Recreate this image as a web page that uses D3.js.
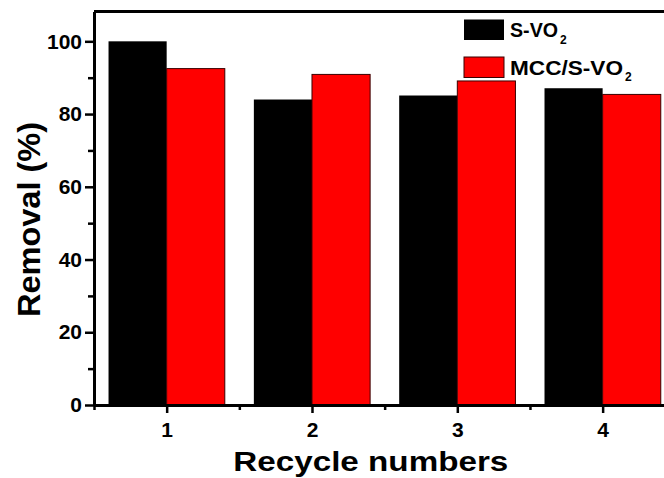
<!DOCTYPE html>
<html><head><meta charset="utf-8">
<script src="https://cdn.jsdelivr.net/npm/d3@7"></script>
<style>
body{margin:0;background:#fff}
svg{display:block}
text{font-family:"Liberation Sans",Arial,sans-serif;font-weight:bold;fill:#000}
</style>
</head><body>
<svg id="chart" width="664" height="478"></svg>
<script>
// Removal efficiency over recycle runs
const cycles = [1, 2, 3, 4];
const sVO2 = [100, 84.0, 85.1, 87.1];
const mccSVO2 = [92.5, 90.9, 89.1, 85.4];
const seriesNames = ["S-VO", "MCC/S-VO"];
const seriesColors = ["#000000", "#ff0000"];
const yTicks = [0, 20, 40, 60, 80, 100];
const yMinorTicks = [10, 30, 50, 70, 90];
const xMinorTicks = [0.5, 1.5, 2.5, 3.5];

const svg = d3.select("#chart");
const x = d3.scaleLinear().domain([0.5, 4.5]).range([94, 675.3]);
const y = d3.scaleLinear().domain([0, 108.2]).range([405, 11.5]);
const barW = 0.4;

// bars
const g = svg.append("g");
g.selectAll("rect.s1").data(cycles).join("rect")
  .attr("x", d => x(d - barW)).attr("width", d => x(d) - x(d - barW))
  .attr("y", (d, i) => y(sVO2[i])).attr("height", (d, i) => y(0) - y(sVO2[i]))
  .attr("fill", seriesColors[0]);
g.selectAll("rect.s2").data(cycles).join("rect")
  .attr("x", d => x(d)).attr("width", d => x(d + barW) - x(d))
  .attr("y", (d, i) => y(mccSVO2[i])).attr("height", (d, i) => y(0) - y(mccSVO2[i]))
  .attr("fill", seriesColors[1]).attr("stroke", "#3a0000").attr("stroke-width", 1);

// top frame line
svg.append("line").attr("x1", x(0.5)).attr("x2", x(4.5))
  .attr("y1", y(108.2)).attr("y2", y(108.2))
  .attr("stroke", "#000").attr("stroke-width", 3);

// y axis
const yAxis = svg.append("g").attr("transform", `translate(${x(0.5)},0)`)
  .call(d3.axisLeft(y).tickValues(yTicks).tickSize(9).tickPadding(3).tickSizeOuter(0));
svg.append("g").attr("transform", `translate(${x(0.5)},0)`)
  .call(d3.axisLeft(y).tickValues(yMinorTicks).tickSize(6).tickFormat("").tickSizeOuter(0))
  .select(".domain").remove();
yAxis.selectAll("text").style("font-size", "21px").attr("font-family", null);

// x axis
const xAxis = svg.append("g").attr("transform", `translate(0,${y(0)})`)
  .call(d3.axisBottom(x).tickValues(cycles).tickFormat(d3.format("d")).tickSize(8).tickPadding(9).tickSizeOuter(0));
svg.append("g").attr("transform", `translate(0,${y(0)})`)
  .call(d3.axisBottom(x).tickValues(xMinorTicks).tickSize(5).tickFormat("").tickSizeOuter(0))
  .select(".domain").remove();
xAxis.selectAll("text").style("font-size", "21px").attr("font-family", null);

svg.selectAll(".domain").attr("stroke-width", 3);
svg.selectAll(".tick line").attr("stroke-width", 2.5);

// axis titles
svg.append("text").attr("x", 370.8).attr("y", 470.5).attr("text-anchor", "middle")
  .attr("font-size", 27).attr("textLength", 275).attr("lengthAdjust", "spacingAndGlyphs")
  .text("Recycle numbers");
svg.append("text").attr("transform", "translate(40,219.5) rotate(-90)").attr("text-anchor", "middle")
  .attr("font-size", 32).attr("textLength", 195).attr("lengthAdjust", "spacingAndGlyphs")
  .text("Removal (%)");

// legend
const legend = svg.append("g");
const legY = [19.5, 57];
const legTextW = [48, 113];
seriesNames.forEach((name, i) => {
  legend.append("rect").attr("x", 464).attr("y", legY[i]).attr("width", 40).attr("height", 20.5)
    .attr("fill", seriesColors[i]).attr("stroke", i ? "#3a0000" : "none").attr("stroke-width", 1);
  const t = legend.append("text").attr("x", 510).attr("y", legY[i] + 17.5).attr("font-size", 20);
  t.append("tspan").attr("textLength", legTextW[i]).attr("lengthAdjust", "spacingAndGlyphs").text(name);
  t.append("tspan").attr("dx", 2).attr("dy", 6.5).attr("font-size", 12).text("2");
});
</script>
</body></html>
